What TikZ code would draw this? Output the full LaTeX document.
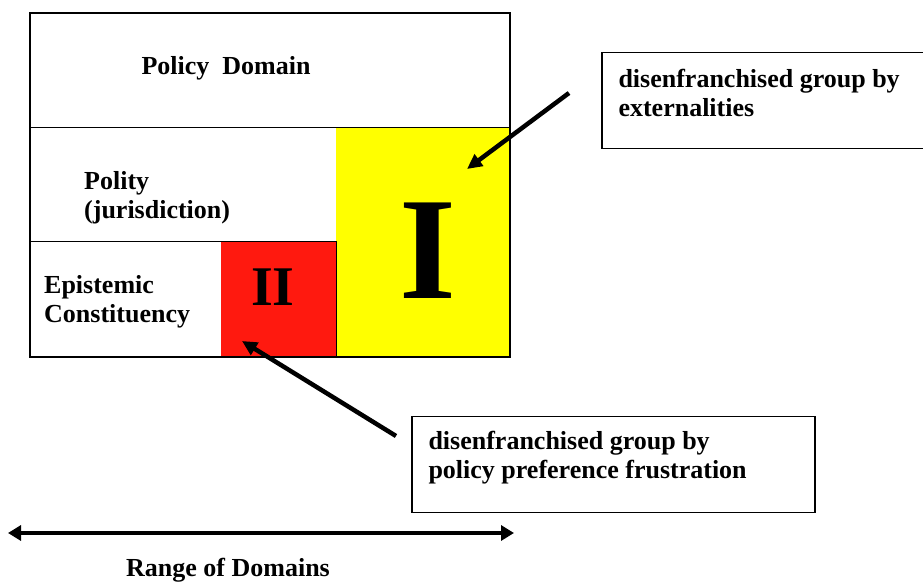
\documentclass[tikz,border=0pt]{standalone}
\usepackage{fontspec}
\setmainfont{Liberation Serif}
\usetikzlibrary{positioning,arrows.meta}
\definecolor{regionred}{RGB}{255,25,15}
\definecolor{regionyellow}{RGB}{255,255,0}

\begin{document}
\begin{tikzpicture}[x=1pt,y=-1pt,
    boxtext/.style={font=\bfseries\fontsize{26}{29}\selectfont, align=left, inner sep=0pt},
    callout/.style={draw, line width=1.4pt, minimum width=#1, minimum height=96pt, inner sep=0pt},
    pointer/.style={-{Triangle[length=15pt,width=14pt]}, line width=4.5pt},
    span/.style={{Triangle[length=13pt,width=15pt]}-{Triangle[length=13pt,width=15pt]}, line width=3.2pt}]
  \useasboundingbox (0,0) rectangle (923,585);
  \clip (0,0) rectangle (923,585);

  % coloured regions
  \fill[regionyellow] (336,127) rectangle (510,357);
  \fill[regionred] (221,241) rectangle (336,357);

  % nested frames
  \draw[line width=1.4pt] (30,13) rectangle (510,357);
  \draw[line width=0.8pt] (30,127) -- (510,127);
  \draw[line width=0.8pt] (30,241) -- (336,241) -- (336,357);
  \draw[line width=2.8pt] (29,357) -- (511,357);

  \node[boxtext] (domain) at (226,68) {Policy\ \ Domain};
  \node[boxtext, anchor=west] (polity) at (84,198) {Polity\\(jurisdiction)};
  \node[boxtext, anchor=west] (epistemic) at (44,302) {Epistemic\\Constituency};
  \node[font=\bfseries\fontsize{56}{56}\selectfont] (two) at (273,287) {II};
  \node[font=\bfseries\fontsize{146}{146}\selectfont] (one) at (428,251) {I};

  % callouts
  \node[callout=330pt] (extbox) at (767,100.5) {};
  \node[boxtext, anchor=north west] (exttext) at ([xshift=17pt,yshift=-17pt]extbox.north west)
    {disenfranchised group by\\externalities};
  \node[callout=403pt] (prefbox) at (613.5,464.5) {};
  \node[boxtext, anchor=north west] (preftext) at ([xshift=17pt,yshift=-15pt]prefbox.north west)
    {disenfranchised group by\\policy preference frustration};

  \coordinate (exttail) at (569,93);
  \coordinate (exthead) at (467,169);
  \coordinate (preftail) at (396,436);
  \coordinate (prefhead) at (242,341);
  \draw[pointer] (exttail) -- (exthead);
  \draw[pointer] (preftail) -- (prefhead);

  % range arrow
  \coordinate (rangeleft) at (8,533);
  \coordinate (rangeright) at (514,533);
  \draw[span] (rangeleft) -- (rangeright);
  \node[boxtext] (range) at (228,570) {Range of Domains};
\end{tikzpicture}
\end{document}
